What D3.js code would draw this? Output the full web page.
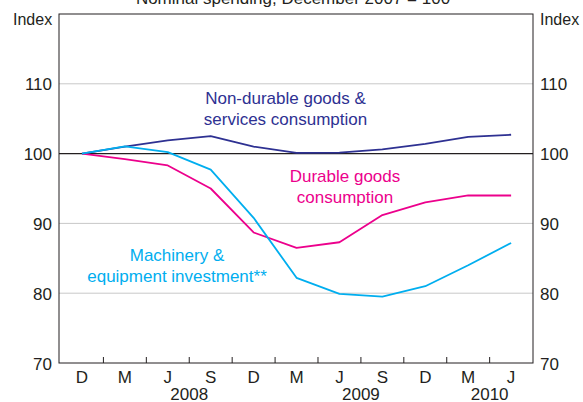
<!DOCTYPE html>
<html>
<head>
<meta charset="utf-8">
<script src="https://cdn.jsdelivr.net/npm/d3@7"></script>
<style>
body { margin: 0; background: #fff; }
text { font-family: Arial, "Liberation Sans", sans-serif; }
</style>
</head>
<body>
<svg id="chart" width="583" height="402"></svg>
<script>
// quarterly points, Dec 2007 .. Jun 2010 (Dec 2007 = 100)
var quarters = ["D", "M", "J", "S", "D", "M", "J", "S", "D", "M", "J"];
var years = [{label: "2008", at: 2.5}, {label: "2009", at: 6.5}, {label: "2010", at: 9.5}];
var nonDurable = [100, 101.0, 101.9, 102.5, 101.0, 100.1, 100.15, 100.6, 101.4, 102.4, 102.7];
var durable = [100, 99.2, 98.3, 95.0, 88.7, 86.5, 87.3, 91.2, 93.0, 94.0, 94.0];
var machinery = [100, 101.05, 100.2, 97.7, 90.8, 82.2, 79.9, 79.5, 81.0, 84.0, 87.2];
var yTicks = [70, 80, 90, 100, 110];

var svg = d3.select("#chart");
var plotL = 59, plotR = 533, plotT = 14, plotB = 363;
var ink = "#231f20";

var x = d3.scaleLinear().domain([-0.535, 10.51]).range([plotL, plotR]);
var y = d3.scaleLinear().domain([70, 120]).range([plotB, plotT]);

// title (cut off at the top of the picture)
svg.append("text")
    .attr("x", 293).attr("y", 4)
    .attr("text-anchor", "middle")
    .attr("font-size", 17)
    .attr("fill", ink)
    .text("Nominal spending, December 2007 = 100");

// gridlines
svg.append("g").selectAll("line")
    .data(yTicks.filter(function (d) { return d !== 70 && d !== 100; }))
    .enter().append("line")
    .attr("x1", plotL).attr("x2", plotR)
    .attr("y1", function (d) { return y(d); })
    .attr("y2", function (d) { return y(d); })
    .attr("stroke", "#c8c8c8").attr("stroke-width", 1);

svg.append("line")
    .attr("x1", plotL).attr("x2", plotR)
    .attr("y1", y(100)).attr("y2", y(100))
    .attr("stroke", ink).attr("stroke-width", 1.2);

// y labels both sides
var leftAxis = d3.axisLeft(y).tickValues(yTicks).tickSize(0).tickPadding(7);
var rightAxis = d3.axisRight(y).tickValues(yTicks).tickSize(0).tickPadding(7);
var ga = svg.append("g").attr("transform", "translate(" + plotL + ",0)").call(leftAxis);
var gb = svg.append("g").attr("transform", "translate(" + plotR + ",0)").call(rightAxis);
[ga, gb].forEach(function (g) {
    g.select(".domain").remove();
    g.selectAll("text")
        .attr("font-size", 17)
        .attr("font-family", "Arial, 'Liberation Sans', sans-serif")
        .attr("fill", ink)
        .attr("dy", "0.36em");
});

svg.append("text").attr("x", 13).attr("y", 25).attr("font-size", 16).attr("fill", ink).text("Index");
svg.append("text").attr("x", 540).attr("y", 25).attr("font-size", 16).attr("fill", ink).text("Index");

// bottom ticks between quarters
var tickPos = d3.range(0.5, 10, 1);
svg.append("g").selectAll("line")
    .data(tickPos)
    .enter().append("line")
    .attr("x1", function (d) { return x(d); })
    .attr("x2", function (d) { return x(d); })
    .attr("y1", plotB).attr("y2", plotB - 6)
    .attr("stroke", ink).attr("stroke-width", 1);

svg.append("g").selectAll("text")
    .data(quarters)
    .enter().append("text")
    .attr("x", function (d, i) { return x(i); })
    .attr("y", plotB + 20)
    .attr("text-anchor", "middle")
    .attr("font-size", 17)
    .attr("fill", ink)
    .text(function (d) { return d; });

svg.append("g").selectAll("text")
    .data(years)
    .enter().append("text")
    .attr("x", function (d) { return x(d.at); })
    .attr("y", plotB + 37)
    .attr("text-anchor", "middle")
    .attr("font-size", 17)
    .attr("fill", ink)
    .text(function (d) { return d.label; });

// lines
var line = d3.line()
    .x(function (d, i) { return x(i); })
    .y(function (d) { return y(d); });

var series = [
    {values: nonDurable, color: "#2e3192"},
    {values: durable, color: "#ec008c"},
    {values: machinery, color: "#00aeef"}
];
series.forEach(function (s) {
    svg.append("path")
        .attr("d", line(s.values))
        .attr("fill", "none")
        .attr("stroke", s.color)
        .attr("stroke-width", 1.8)
        .attr("stroke-linejoin", "round");
});

// plot frame
svg.append("rect")
    .attr("x", plotL).attr("y", plotT)
    .attr("width", plotR - plotL).attr("height", plotB - plotT)
    .attr("fill", "none").attr("stroke", ink).attr("stroke-width", 1);

// annotations
function label(lines, cx, cy, color) {
    var t = svg.append("text")
        .attr("text-anchor", "middle")
        .attr("font-size", 17)
        .attr("fill", color);
    lines.forEach(function (l, i) {
        t.append("tspan").attr("x", cx).attr("y", cy + i * 20.5).text(l);
    });
}
label(["Non-durable goods &", "services consumption"], 285.5, 104, "#2e3192");
label(["Durable goods", "consumption"], 345, 182, "#ec008c");
label(["Machinery &", "equipment investment**"], 177, 261, "#00aeef");
</script>
</body>
</html>
